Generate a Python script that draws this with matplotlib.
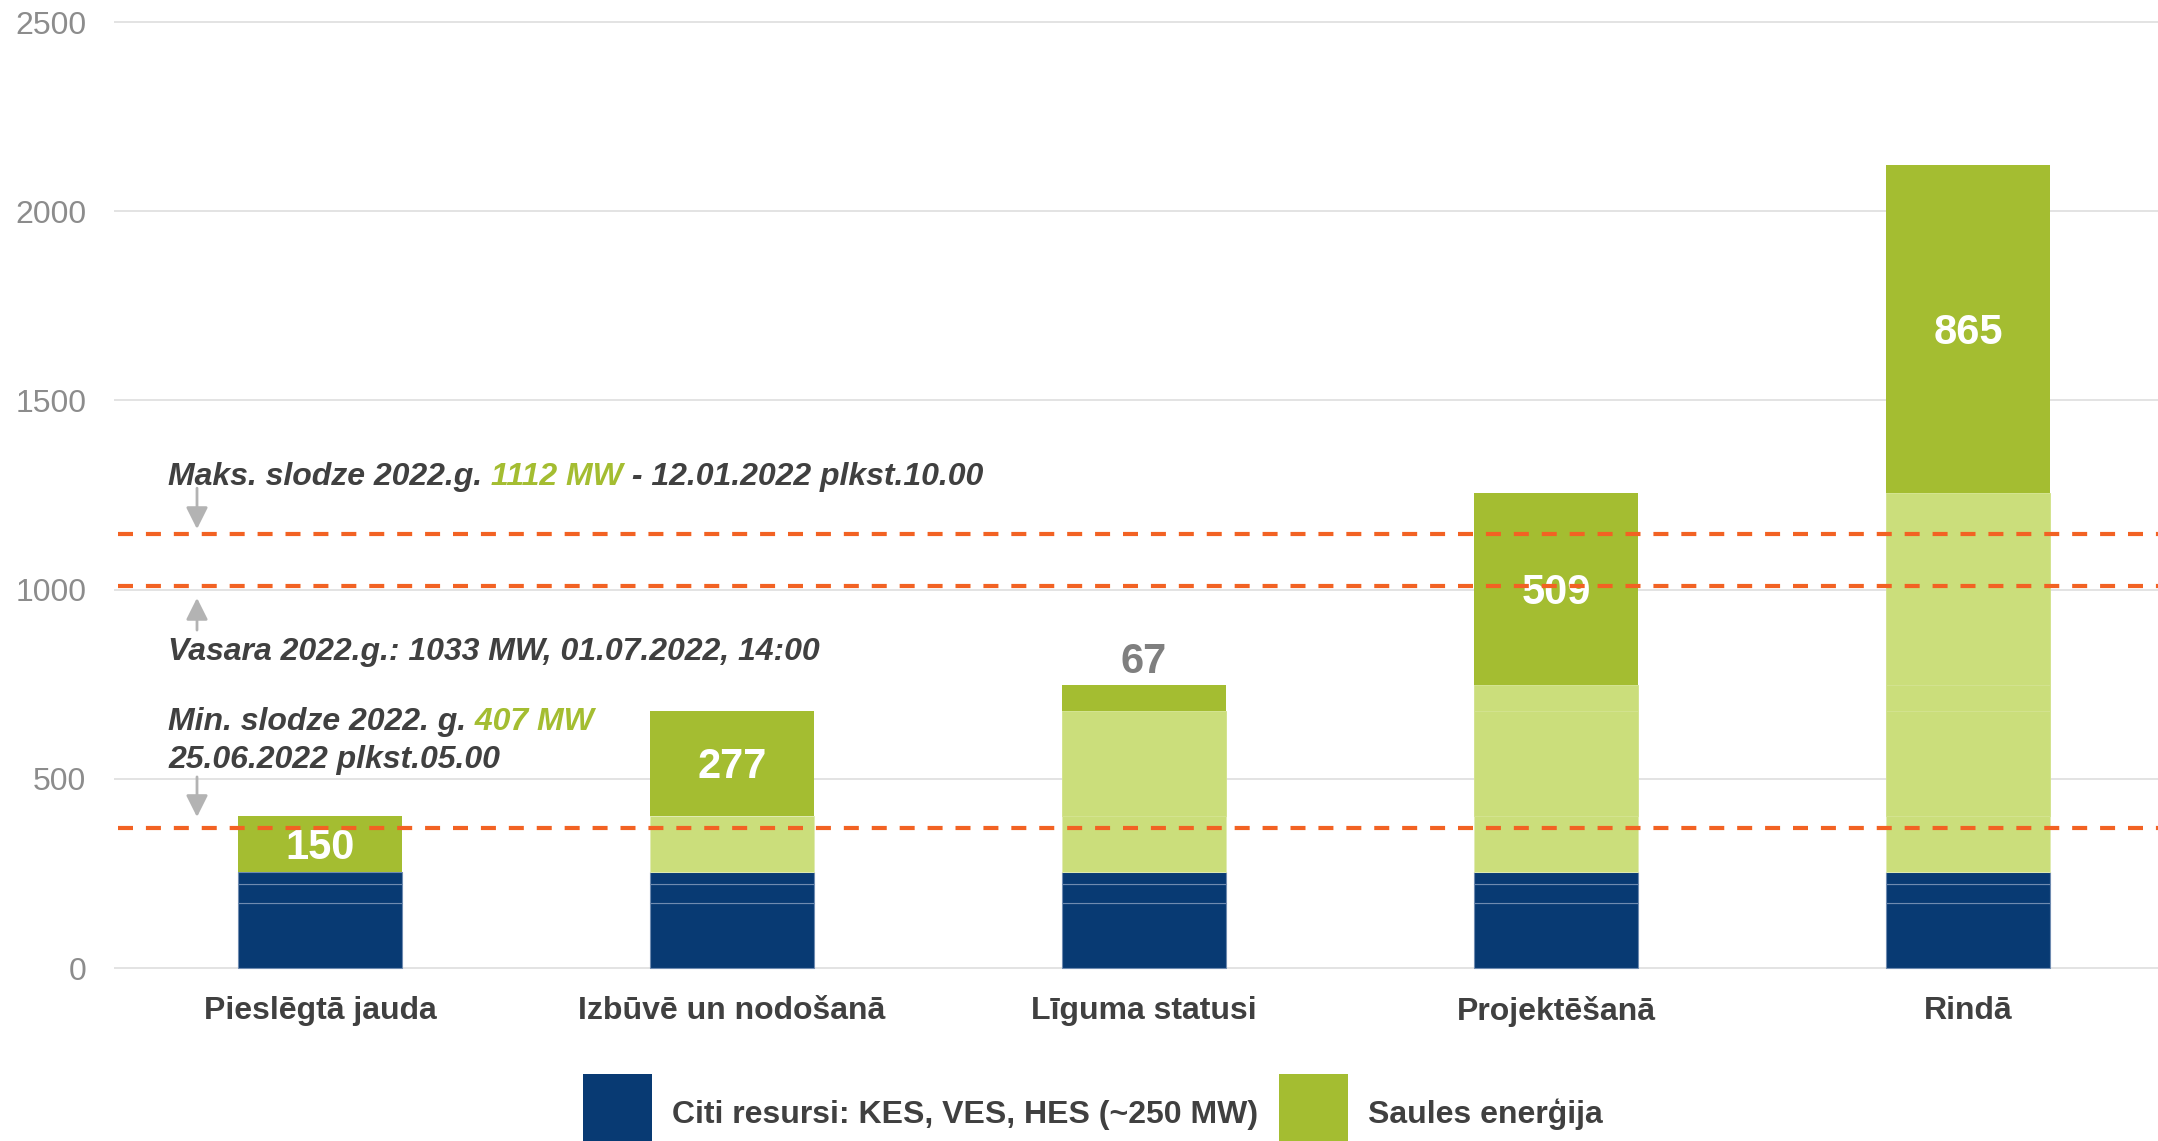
import matplotlib
matplotlib.use('Agg')
import matplotlib.pyplot as plt
from matplotlib.patches import Rectangle
import numpy as np

# ---------------- data ----------------
categories = ['Pieslēgtā jauda', 'Izbūvē un nodošanā', 'Līguma statusi', 'Projektēšanā', 'Rindā']
other_parts = [173, 50, 30]            # citi resursi (KES, VES, HES) ~253 MW
solar_new = [150, 277, 67, 509, 865]   # saules enerģija, pieaugums katrā stadijā
y_ticks = [0, 500, 1000, 1500, 2000, 2500]
ref_levels = [1148, 1010, 370]         # slodzes līmeņu līnijas
legend_labels = ['Citi resursi: KES, VES, HES (~250 MW)', 'Saules enerģija']

BLUE = '#083a73'
GREEN = '#a4bd31'
LGREEN = '#cbde7b'
ORANGE = '#f26223'
TXT = '#404040'
GRAY = '#8c8c8c'
ARROW = '#b3b3b3'

plt.rcParams['font.family'] = ['Liberation Sans', 'DejaVu Sans']

W, H = 2158, 1141
fig = plt.figure(figsize=(W / 100, H / 100), dpi=100)

k = (968 - 22) / 2500.0          # px per MW
y0, y1 = -8, 2510
bottom_px = 968 + (0 - y0) * k
top_px = 968 - y1 * k
ax = fig.add_axes([114 / W, 1 - bottom_px / H, (W - 114) / W, (bottom_px - top_px) / H])

x = np.arange(len(categories))
width = 0.4
for i in x:
    bottom = 0
    for v in other_parts:
        ax.bar(i, v, width, bottom=bottom, color=BLUE, edgecolor='#6f8bb0', linewidth=0.8, zorder=2)
        bottom += v
    for j in range(i):
        ax.bar(i, solar_new[j], width, bottom=bottom, color=LGREEN,
               edgecolor='#d3e38f' if j > 0 else '#e0ebb2', linewidth=0.7, zorder=2)
        bottom += solar_new[j]
    ax.bar(i, solar_new[i], width, bottom=bottom, color=GREEN, linewidth=0, zorder=2)
    top = bottom + solar_new[i]
    if solar_new[i] < 100:
        ax.text(i, top + 33, str(solar_new[i]), ha='center', va='baseline', fontsize=30,
                fontweight='bold', color='#7f7f7f', zorder=5)
    else:
        ax.text(i, bottom + solar_new[i] / 2 - 40, str(solar_new[i]), ha='center', va='baseline',
                fontsize=30, fontweight='bold', color='white', zorder=3)

ax.hlines(ref_levels, xmin=-0.49, xmax=4.5, colors=ORANGE, linestyles=(0, (3.6, 3.1)),
          linewidth=3.0, zorder=4)

ax.set_xlim(-0.5, (W - 320) / 412.0)
ax.set_ylim(y0, y1)
ax.set_yticks(y_ticks)
ax.set_xticks(x)
ax.set_xticklabels(categories, fontweight='bold')
ax.tick_params(axis='y', length=0, pad=20, labelsize=23, labelcolor=GRAY)
ax.tick_params(axis='x', length=0, pad=18, labelsize=23, labelcolor=TXT)
ax.grid(axis='y', color='#e0e0e0', linewidth=1.3, zorder=0)
ax.set_axisbelow(True)
for s in ax.spines.values():
    s.set_visible(False)

# ---------------- annotations ----------------
def multicolor(xp, yp, parts):
    t = ax.text(xp, yp, parts[0][0], color=parts[0][1], fontsize=23, fontweight='bold',
                fontstyle='italic', ha='left', va='baseline', zorder=5)
    prev = t
    for s, c in parts[1:]:
        prev = ax.annotate(s, xy=(1, 0), xycoords=prev, ha='left', va='bottom', color=c,
                           fontsize=23, fontweight='bold', fontstyle='italic', zorder=5)

tx = (168 - 320) / 412.0
multicolor(tx, 1276, [('Maks. slodze 2022.g.', TXT), (' 1112 MW', GREEN), (' - 12.01.2022 plkst.10.00', TXT)])
multicolor(tx, 814, [('Vasara 2022.g.: 1033 MW, 01.07.2022, 14:00', TXT)])
multicolor(tx, 629, [('Min. slodze 2022. g.', TXT), (' 407 MW', GREEN)])
multicolor(tx, 528, [('25.06.2022 plkst.05.00', TXT)])

ax_x = (197 - 320) / 412.0
arrows = [(1268, 1160), (893, 978), (505, 399)]
for ys, ye in arrows:
    ax.annotate('', xy=(ax_x, ye), xytext=(ax_x, ys),
                arrowprops=dict(arrowstyle='-|>,head_length=0.6,head_width=0.3', color=ARROW,
                                lw=2.0, mutation_scale=22, shrinkA=0, shrinkB=0), zorder=5)

# ---------------- legend ----------------
leg_colors = [BLUE, GREEN]
patch_x = [583, 1279]
text_x = [672, 1368]
for c, px, tx2, lab in zip(leg_colors, patch_x, text_x, legend_labels):
    fig.add_artist(Rectangle((px / W, -0.05), 69 / W, (1141 - 1074) / H + 0.05,
                             transform=fig.transFigure, facecolor=c, edgecolor='none'))
    fig.text(tx2 / W, 1 - 1123 / H, lab, fontsize=23, fontweight='bold', color=TXT,
             ha='left', va='baseline')

fig.savefig('out.png', dpi=100)
